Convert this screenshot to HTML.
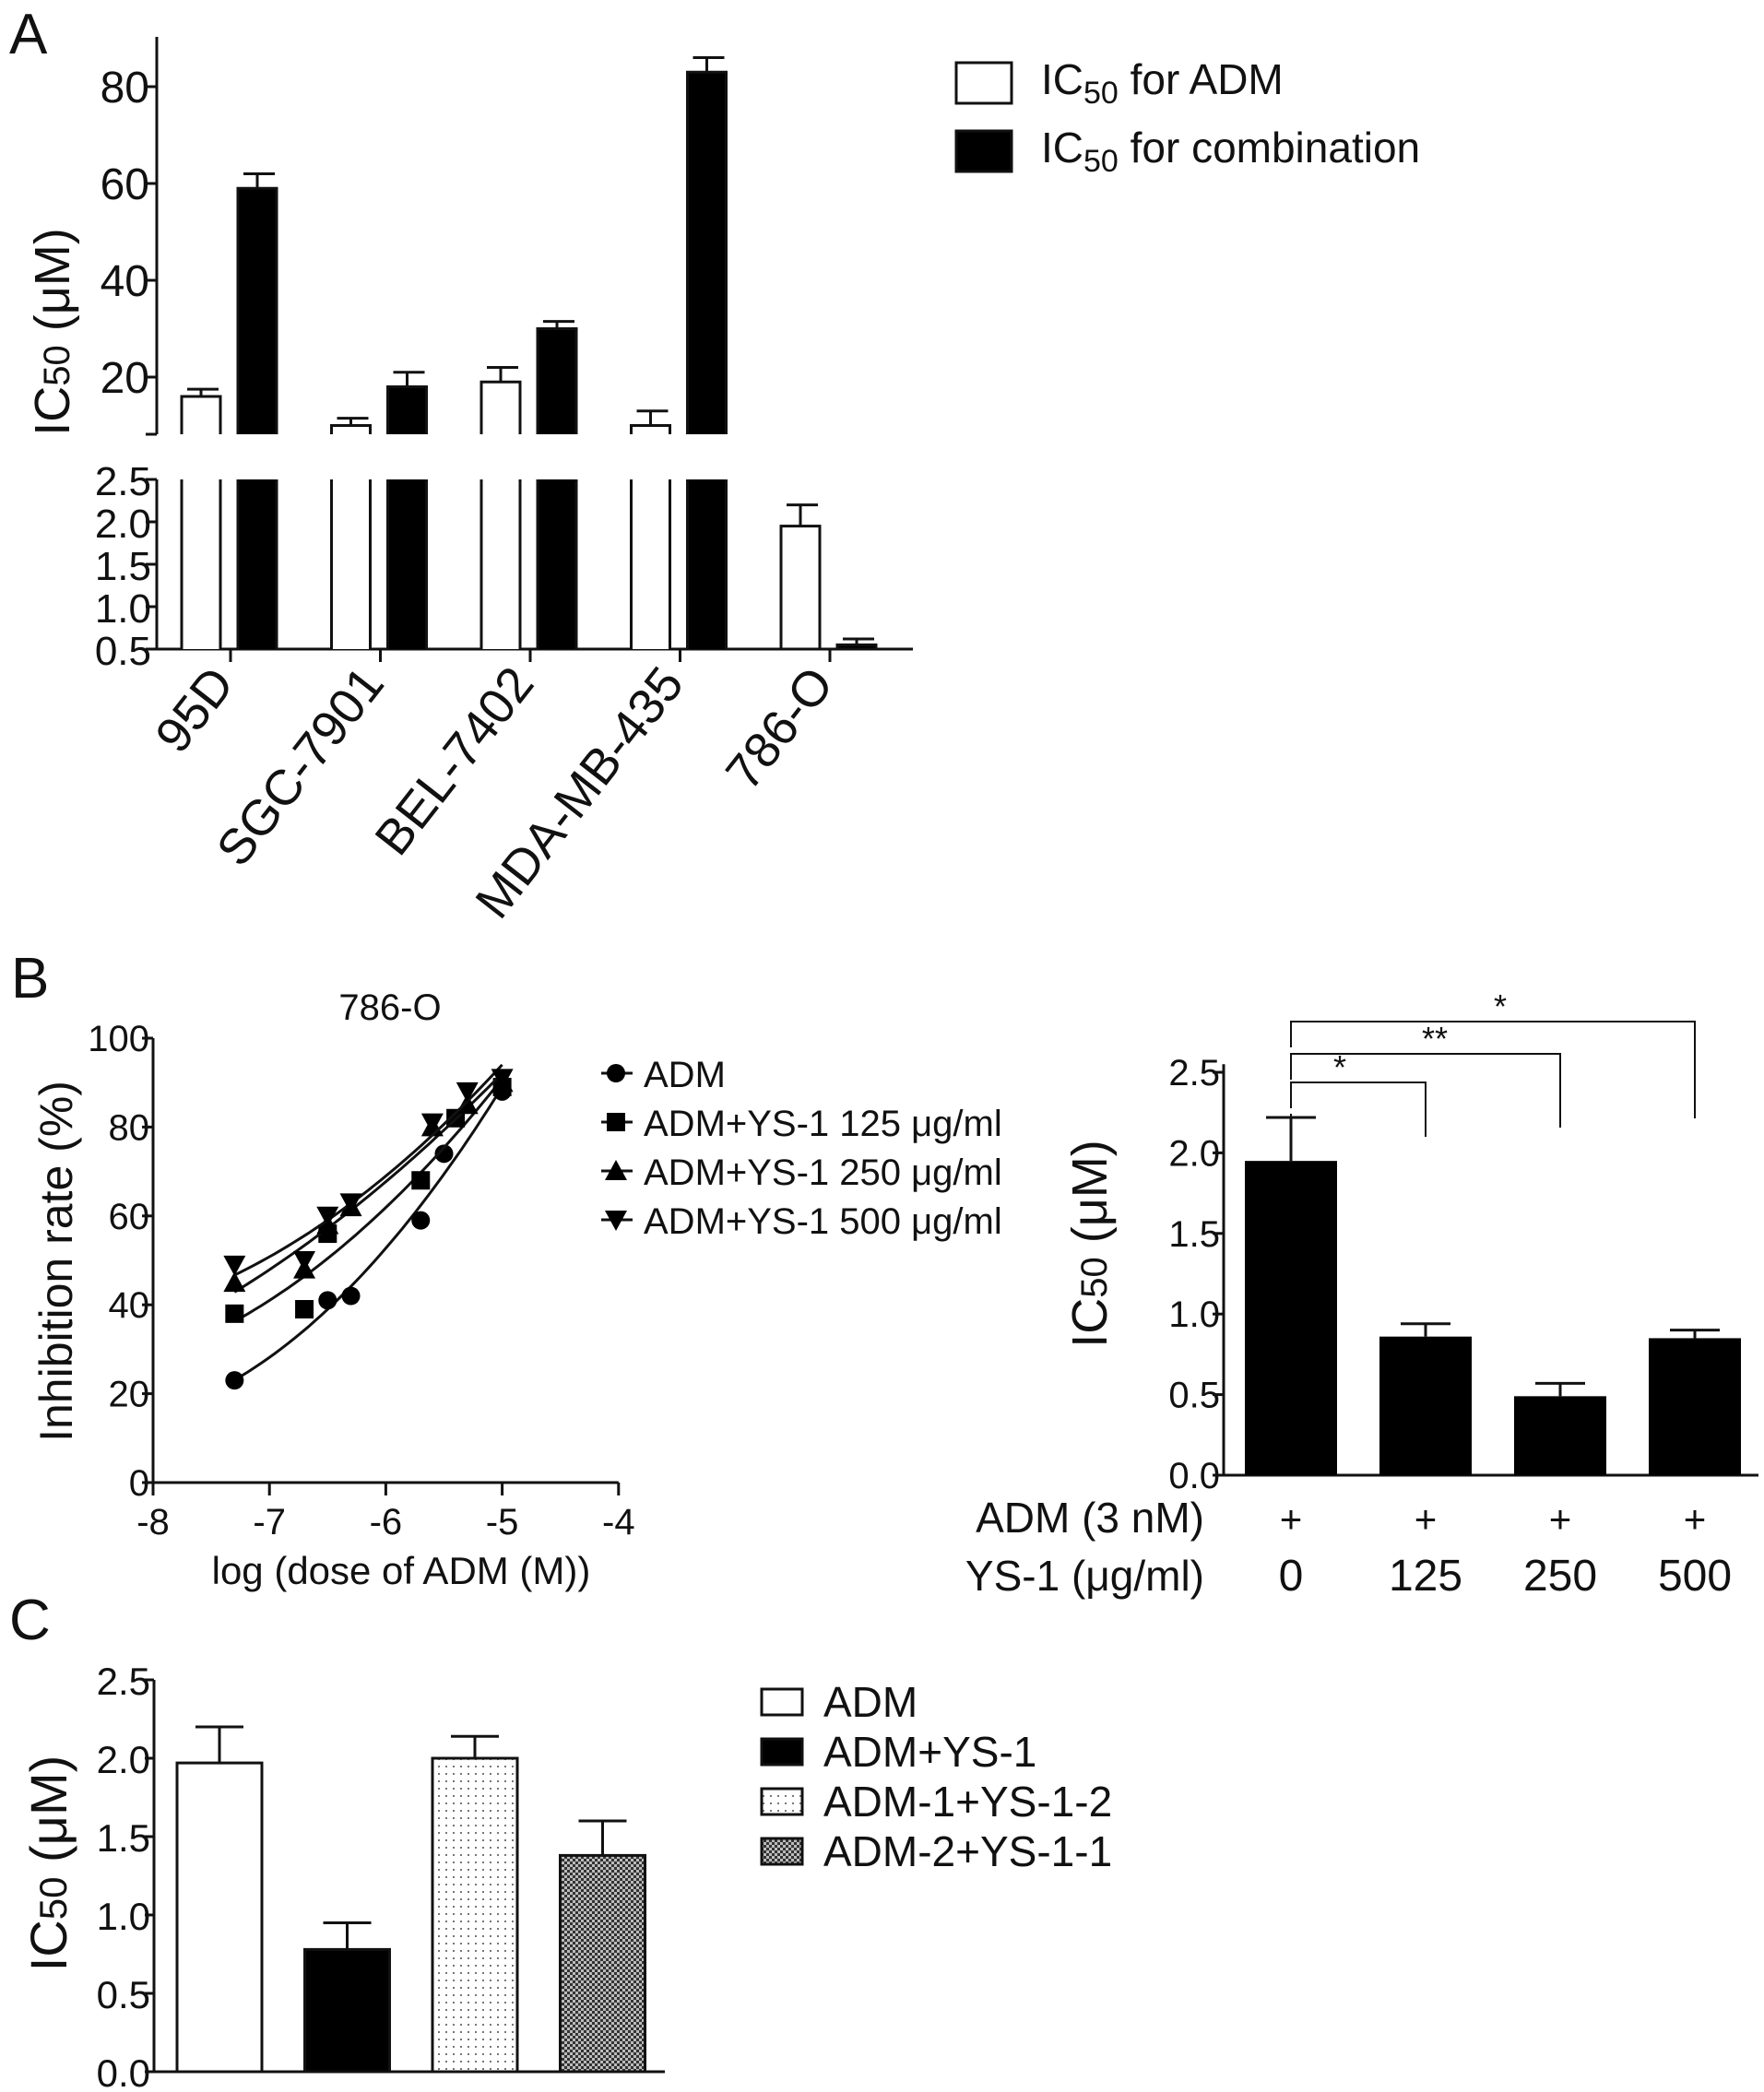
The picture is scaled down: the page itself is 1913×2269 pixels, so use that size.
<!DOCTYPE html>
<html><head><meta charset="utf-8"><style>
html,body{margin:0;padding:0;background:#fff;}
svg{display:block;font-family:"Liberation Sans",Arial,sans-serif;}
text{fill:#111;}
</style></head><body>
<svg id="fig" width="1913" height="2269" viewBox="0 0 1913 2269" xmlns="http://www.w3.org/2000/svg">
<defs>
<pattern id="dots" width="8" height="8" patternUnits="userSpaceOnUse"><rect width="8" height="8" fill="#fff"/><rect x="3" y="3" width="2" height="2" fill="#777"/></pattern>
<pattern id="check" width="6" height="6" patternUnits="userSpaceOnUse"><rect width="6" height="6" fill="#333"/><rect x="0" y="0" width="3" height="3" fill="#bbb"/><rect x="3" y="3" width="3" height="3" fill="#bbb"/></pattern>
</defs>
</svg>
<script>
// ---------- Panel A data ----------
const cellLines = ["95D","SGC-7901","BEL-7402","MDA-MB-435","786-O"];
const admValues = [16, 10, 19, 10, 1.95];
const admErrors = [17.5, 11.5, 22, 13, 2.2];
const comboValues = [59, 18, 30, 83, 0.55];
const comboErrors = [62, 21, 31.5, 86, 0.62];
const upperTicks = [20, 40, 60, 80];
const lowerTicks = [0.5, 1.0, 1.5, 2.0, 2.5];
// ---------- Panel B left data ----------
const bXTicks = [-8,-7,-6,-5,-4];
const bYTicks = [0,20,40,60,80,100];
const doseADM = [-7.3,-6.5,-6.3,-5.7,-5.5,-5.0];
const rateADM = [23,41,42,59,74,88];
const dose125 = [-7.3,-6.7,-6.5,-5.7,-5.4,-5.0];
const rate125 = [38,39,56,68,82,89];
const dose250 = [-7.3,-6.7,-6.5,-6.3,-5.6,-5.3,-5.0];
const rate250 = [45,48,58,62,80,85,90];
const dose500 = [-7.3,-6.7,-6.5,-6.3,-5.6,-5.3,-5.0];
const rate500 = [49,50,60,63,81,88,91];
const bSeriesNames = ["ADM","ADM+YS-1 125 μg/ml","ADM+YS-1 250 μg/ml","ADM+YS-1 500 μg/ml"];
// ---------- Panel B right data ----------
const ys1Doses = ["0","125","250","500"];
const ys1Values = [1.95,0.86,0.49,0.85];
const ys1Errors = [2.22,0.94,0.57,0.90];
const ys1Ticks = [0.0,0.5,1.0,1.5,2.0,2.5];
// ---------- Panel C data ----------
const cGroups = ["ADM","ADM+YS-1","ADM-1+YS-1-2","ADM-2+YS-1-1"];
const cValues = [1.97,0.78,2.0,1.38];
const cErrors = [2.2,0.95,2.14,1.6];
const cTicks = [0.0,0.5,1.0,1.5,2.0,2.5];

const svg = document.getElementById('fig');
const NS = "http://www.w3.org/2000/svg";
function el(tag, attrs, parent){
  const e = document.createElementNS(NS, tag);
  for (const k in attrs) e.setAttribute(k, attrs[k]);
  (parent||svg).appendChild(e);
  return e;
}
function txt(s, x, y, size, anchor, parent, extra){
  const t = el('text', Object.assign({x:x, y:y, 'font-size':size, 'text-anchor':anchor||'start'}, extra||{}), parent);
  t.textContent = s;
  return t;
}
const LW = 3;

// ===== Panel A =====
const gA = el('g', {});


const aLetter = txt('A', 10, 58, 62, 'start', gA);


const aAxisX = 170;
const yUp = v => 409 - (v - 20) * 5.25;
const yLo = v => 704 - (v - 0.5) * 92;
const upperBottom = 471, lowerTop = 520;
const groupX = i => 250 + i * 162.5;
el('line', {x1:aAxisX, y1:40, x2:aAxisX, y2:upperBottom, stroke:'#111', 'stroke-width':LW}, gA);
el('line', {x1:aAxisX-12, y1:upperBottom, x2:aAxisX, y2:upperBottom, stroke:'#111', 'stroke-width':LW}, gA);
el('line', {x1:aAxisX, y1:lowerTop, x2:aAxisX, y2:704, stroke:'#111', 'stroke-width':LW}, gA);
el('line', {x1:aAxisX, y1:704, x2:990, y2:704, stroke:'#111', 'stroke-width':LW}, gA);
upperTicks.forEach(v => {
  el('line', {x1:aAxisX-12, y1:yUp(v), x2:aAxisX, y2:yUp(v), stroke:'#111', 'stroke-width':LW}, gA);
  const t = txt(String(v), aAxisX-8, yUp(v)+17, 48, 'end', gA);
  
  
});
lowerTicks.forEach(v => {
  el('line', {x1:aAxisX-12, y1:yLo(v), x2:aAxisX, y2:yLo(v), stroke:'#111', 'stroke-width':LW}, gA);
  const t = txt(v.toFixed(1), aAxisX-6, yLo(v)+17, 44, 'end', gA);
  
  
});
const aTitle = el('text', {x:0, y:0, 'font-size':54, 'text-anchor':'middle', transform:'translate(75,360) rotate(-90)'}, gA);
aTitle.innerHTML = 'IC<tspan font-size="40" dy="0">50</tspan> (μM)';


function barA(cx, value, err, fill, name){
  const w = 42;
  const g = el('g', {}, gA);
  
  
  if (value > 2.5) {
    const top = yUp(value);
    el('rect', {x:cx-w/2, y:top, width:w, height:upperBottom-top, fill:fill}, g);
    el('rect', {x:cx-w/2, y:lowerTop, width:w, height:704-lowerTop, fill:fill}, g);
    el('path', {d:'M'+(cx-w/2)+','+upperBottom+' V'+top+' H'+(cx+w/2)+' V'+upperBottom, fill:'none', stroke:'#111', 'stroke-width':LW}, g);
    el('path', {d:'M'+(cx-w/2)+','+lowerTop+' V704 M'+(cx+w/2)+','+lowerTop+' V704', fill:'none', stroke:'#111', 'stroke-width':LW}, g);
    el('line', {x1:cx, y1:top, x2:cx, y2:yUp(err), stroke:'#111', 'stroke-width':LW}, g);
    el('line', {x1:cx-w/2+6, y1:yUp(err), x2:cx+w/2-2, y2:yUp(err), stroke:'#111', 'stroke-width':LW}, g);
  } else {
    const top = yLo(value);
    el('rect', {x:cx-w/2, y:top, width:w, height:704-top, fill:fill, stroke:'#111', 'stroke-width':LW}, g);
    el('line', {x1:cx, y1:top, x2:cx, y2:yLo(err), stroke:'#111', 'stroke-width':LW}, g);
    el('line', {x1:cx-w/2+6, y1:yLo(err), x2:cx+w/2-2, y2:yLo(err), stroke:'#111', 'stroke-width':LW}, g);
  }
}
cellLines.forEach((c, i) => {
  barA(groupX(i) - 32, admValues[i], admErrors[i], '#fff', 'bar-adm-' + c.toLowerCase());
  barA(groupX(i) + 29, comboValues[i], comboErrors[i], '#000', 'bar-combo-' + c.toLowerCase());
  el('line', {x1:groupX(i), y1:704, x2:groupX(i), y2:718, stroke:'#111', 'stroke-width':LW}, gA);
  const t = el('text', {x:0, y:0, 'font-size':54, 'text-anchor':'end', transform:'translate(' + (groupX(i)+6) + ',742) rotate(-52)'}, gA);
  t.textContent = c;
  
  
});
// legend A
const legA = el('g', {}, gA);


const legAItems = [['#fff','for ADM',68],['#000','for  combination',142]];
legAItems.forEach((it, i) => {
  const g = el('g', {}, legA);
  
  
  el('rect', {x:1037, y:it[2], width:60, height:44, fill:it[0], stroke:'#111', 'stroke-width':LW}, g);
  const t = el('text', {x:1129, y:it[2]+34, 'font-size':46}, g);
  t.innerHTML = 'IC<tspan font-size="34" dy="10">50</tspan><tspan dy="-10"> ' + it[1] + '</tspan>';
});

// ===== Panel B left =====
const gB = el('g', {});


const bLetter = txt('B', 12, 1082, 62, 'start', gB);


const bx = v => 166 + (v + 8) * 126.2;
const by = v => 1608 - v * 4.82;
el('line', {x1:bx(-8), y1:by(0), x2:bx(-8), y2:by(100), stroke:'#111', 'stroke-width':LW}, gB);
el('line', {x1:bx(-8), y1:by(0), x2:bx(-4), y2:by(0), stroke:'#111', 'stroke-width':LW}, gB);
bXTicks.forEach(v => {
  el('line', {x1:bx(v), y1:by(0), x2:bx(v), y2:by(0)+14, stroke:'#111', 'stroke-width':LW}, gB);
  const t = txt(String(v), bx(v), 1664, 40, 'middle', gB);
  
  
});
bYTicks.forEach(v => {
  el('line', {x1:bx(-8)-12, y1:by(v), x2:bx(-8), y2:by(v), stroke:'#111', 'stroke-width':LW}, gB);
  const t = txt(String(v), bx(-8)-4, by(v)+14, 40, 'end', gB);
  
  
});
const bTitle = txt('786-O', 423, 1106, 40, 'middle', gB);


const bxl = txt('log (dose of ADM (M))', 435, 1718, 42, 'middle', gB);


const byl = el('text', {x:0, y:0, 'font-size':50, 'text-anchor':'middle', transform:'translate(78,1368) rotate(-90)'}, gB);
byl.textContent = 'Inhibition rate  (%)';


function quadFit(xs, ys){
  let n=xs.length,s=[0,0,0,0,0],t=[0,0,0];
  for(let i=0;i<n;i++){const x=xs[i];let p=1;for(let k=0;k<5;k++){s[k]+=p;if(k<3)t[k]+=p*ys[i];p*=x;}}
  const A=[[s[0],s[1],s[2]],[s[1],s[2],s[3]],[s[2],s[3],s[4]]];
  const det=m=>m[0][0]*(m[1][1]*m[2][2]-m[1][2]*m[2][1])-m[0][1]*(m[1][0]*m[2][2]-m[1][2]*m[2][0])+m[0][2]*(m[1][0]*m[2][1]-m[1][1]*m[2][0]);
  const D=det(A);const c=[];
  for(let j=0;j<3;j++){const M=A.map((r,i)=>r.map((v,k)=>k===j?t[i]:v));c.push(det(M)/D);}
  return c;
}
function marker(type, x, y, parent){
  const r = 10;
  if (type===0) el('circle', {cx:x, cy:y, r:r, fill:'#000'}, parent);
  else if (type===1) el('rect', {x:x-r, y:y-r, width:2*r, height:2*r, fill:'#000'}, parent);
  else if (type===2) el('polygon', {points:(x)+','+(y-r-2)+' '+(x+r+2)+','+(y+r)+' '+(x-r-2)+','+(y+r), fill:'#000'}, parent);
  else el('polygon', {points:(x)+','+(y+r+2)+' '+(x+r+2)+','+(y-r)+' '+(x-r-2)+','+(y-r), fill:'#000'}, parent);
}
const bSeries = [[doseADM,rateADM],[dose125,rate125],[dose250,rate250],[dose500,rate500]];
bSeries.forEach((s, si) => {
  const g = el('g', {}, gB);
  
  
  const c = quadFit(s[0], s[1]);
  const x0 = Math.min(...s[0]), x1 = Math.max(...s[0]);
  let d = '';
  for (let k=0;k<=40;k++){const x=x0+(x1-x0)*k/40;const y=c[0]+c[1]*x+c[2]*x*x;d+=(k?'L':'M')+bx(x).toFixed(1)+','+by(y).toFixed(1);}
  el('path', {d:d, fill:'none', stroke:'#111', 'stroke-width':LW}, g);
  s[0].forEach((x, i) => marker(si, bx(x), by(s[1][i]), g));
});
const legB = el('g', {}, gB);


bSeriesNames.forEach((nm, i) => {
  const y = 1164 + i * 53;
  const g = el('g', {}, legB);
  
  
  el('line', {x1:652, y1:y, x2:686, y2:y, stroke:'#111', 'stroke-width':LW}, g);
  marker(i, 668, y, g);
  txt(nm, 698, y+15, 40, 'start', g);
});

// ===== Panel B right =====
const gR = el('g', {});


const rAx = 1327;
const ry = v => 1600 - v * 174.8;
const rBarX = i => 1400 + i * 146;
el('line', {x1:rAx, y1:ry(0), x2:rAx, y2:ry(2.55), stroke:'#111', 'stroke-width':LW}, gR);
el('line', {x1:rAx, y1:ry(0), x2:1907, y2:ry(0), stroke:'#111', 'stroke-width':LW}, gR);
ys1Ticks.forEach(v => {
  el('line', {x1:rAx-12, y1:ry(v), x2:rAx, y2:ry(v), stroke:'#111', 'stroke-width':LW}, gR);
  const t = txt(v.toFixed(1), rAx-4, ry(v)+14, 40, 'end', gR);
  
  
});
const rt = el('text', {x:0, y:0, 'font-size':54, 'text-anchor':'middle', transform:'translate(1200,1349) rotate(-90)'}, gR);
rt.innerHTML = 'IC<tspan font-size="40">50</tspan> (μM)';


ys1Doses.forEach((d, i) => {
  const cx = rBarX(i), w = 100;
  const g = el('g', {}, gR);
  
  
  el('rect', {x:cx-w/2, y:ry(ys1Values[i]), width:w, height:ry(0)-ry(ys1Values[i]), fill:'#000'}, g);
  el('line', {x1:cx, y1:ry(ys1Values[i]), x2:cx, y2:ry(ys1Errors[i]), stroke:'#111', 'stroke-width':LW}, g);
  el('line', {x1:cx-27, y1:ry(ys1Errors[i]), x2:cx+27, y2:ry(ys1Errors[i]), stroke:'#111', 'stroke-width':LW}, g);
  txt('+', cx, 1662, 42, 'middle', gR);
  const t = txt(d, cx, 1725, 48, 'middle', gR);
  
  
});
const admRow = txt('ADM (3 nM)', 1306, 1662, 46, 'end', gR);


const ysRow = txt('YS-1 (μg/ml)', 1306, 1725, 46, 'end', gR);


const brackets = [[1,1174,1233,'*'],[2,1143,1223,'**'],[3,1108,1213,'*']];
brackets.forEach((b, i) => {
  const g = el('g', {}, gR);
  
  
  const x2 = rBarX(b[0]);
  el('path', {d:'M'+rBarX(0)+','+(b[1]+28)+' L'+rBarX(0)+','+b[1]+' L'+x2+','+b[1]+' L'+x2+','+b[2], fill:'none', stroke:'#111', 'stroke-width':2}, g);
  txt(b[3], (rBarX(0)+x2)/2 - (i===0?20:i===1?-10:-8)*1, b[1]-4, 36, 'middle', g);
});
el('line', {x1:rBarX(0), y1:1208, x2:rBarX(0), y2:1240, stroke:'#111', 'stroke-width':2}, gR);

// ===== Panel C =====
const gC = el('g', {});


const cLetter = txt('C', 10, 1778, 62, 'start', gC);


const cAx = 167;
const cy = v => 2247 - v * 170;
const cBarX = i => 238 + i * 138.5;
const cFills = ['#fff','#000','url(#dots)','url(#check)'];
el('line', {x1:cAx, y1:cy(0), x2:cAx, y2:cy(2.5), stroke:'#111', 'stroke-width':LW}, gC);
el('line', {x1:158, y1:cy(0), x2:721, y2:cy(0), stroke:'#111', 'stroke-width':LW}, gC);
cTicks.forEach(v => {
  el('line', {x1:cAx-10, y1:cy(v), x2:cAx, y2:cy(v), stroke:'#111', 'stroke-width':LW}, gC);
  const t = txt(v.toFixed(1), cAx-4, cy(v)+16, 42, 'end', gC);
  
  
});
const ct = el('text', {x:0, y:0, 'font-size':56, 'text-anchor':'middle', transform:'translate(72,2021) rotate(-90)'}, gC);
ct.innerHTML = 'IC<tspan font-size="42">50</tspan> (μM)';


cGroups.forEach((gname, i) => {
  const cx = cBarX(i), w = 92;
  const g = el('g', {}, gC);
  
  
  el('line', {x1:cx, y1:cy(cValues[i]), x2:cx, y2:cy(cErrors[i]), stroke:'#111', 'stroke-width':LW}, g);
  el('line', {x1:cx-26, y1:cy(cErrors[i]), x2:cx+26, y2:cy(cErrors[i]), stroke:'#111', 'stroke-width':LW}, g);
  el('rect', {x:cx-w/2, y:cy(cValues[i]), width:w, height:cy(0)-cy(cValues[i]), fill:cFills[i], stroke:'#111', 'stroke-width':LW}, g);
});
const legC = el('g', {}, gC);


cGroups.forEach((gname, i) => {
  const y = 1832 + i * 54;
  const g = el('g', {}, legC);
  
  
  el('rect', {x:826, y:y, width:44, height:28, fill:cFills[i], stroke:'#111', 'stroke-width':LW}, g);
  txt(gname, 893, y+30, 46, 'start', g);
});
</script>
</body></html>
